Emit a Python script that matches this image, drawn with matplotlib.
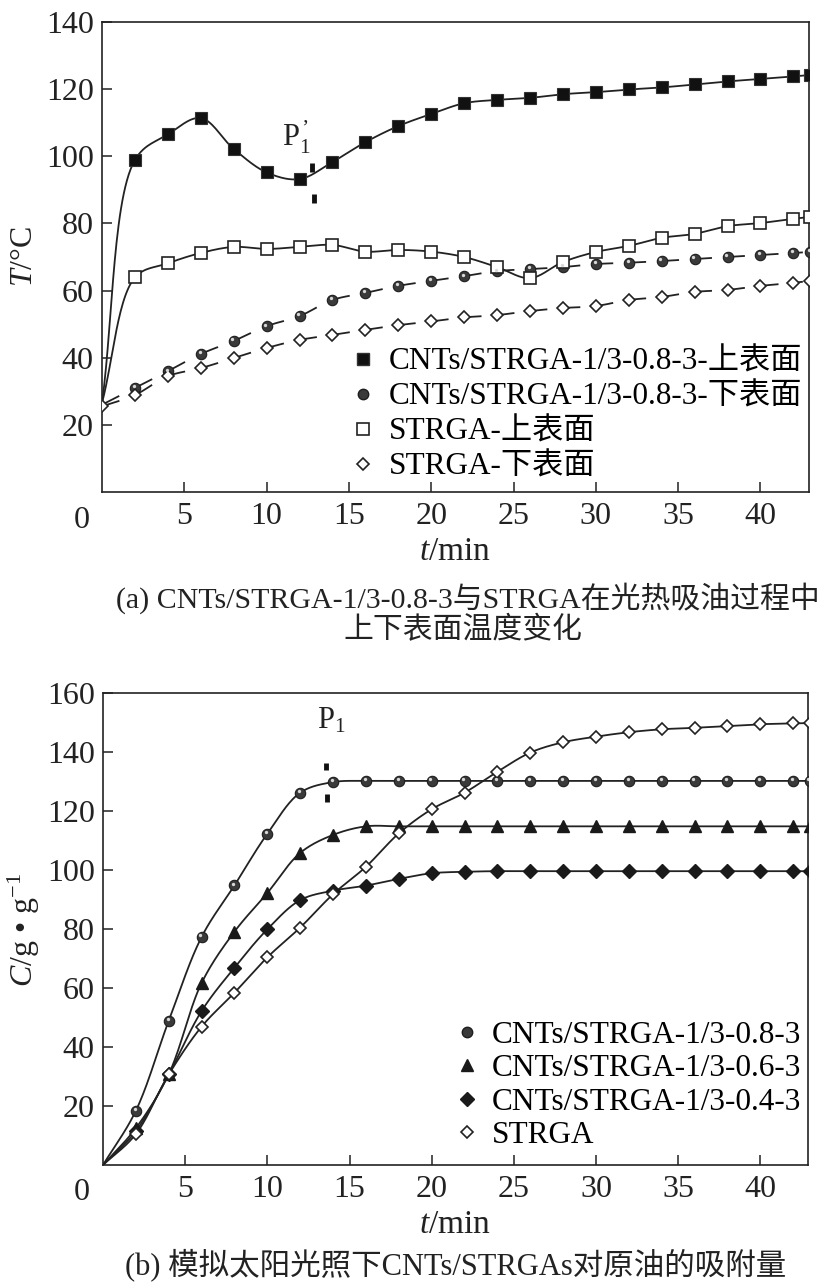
import numpy as np
import matplotlib
matplotlib.use('Agg')
import matplotlib.pyplot as plt
from matplotlib.lines import Line2D
from matplotlib.transforms import offset_copy

plt.rcParams['font.family'] = ['Liberation Serif', 'Noto Sans CJK SC']
plt.rcParams['mathtext.fontset'] = 'custom'
plt.rcParams['mathtext.rm'] = 'Liberation Serif'
plt.rcParams['mathtext.it'] = 'Liberation Serif:italic'

INK = '#222222'

# ---- data (a): surface temperature ----
t_top = [2, 4, 6, 8, 10, 12, 14, 16, 18, 20, 22, 24, 26, 28, 30, 32, 34, 36, 38, 40, 42, 43]
T_cnt_up = [98.9, 106.5, 111.4, 102.2, 95.2, 93.2, 98.3, 104.2, 109.0, 112.6, 115.8,
            116.8, 117.4, 118.5, 119.1, 119.9, 120.5, 121.4, 122.3, 123.0, 123.8, 124.2]
T_cnt_down = [31.0, 36.0, 41.1, 45.0, 49.4, 52.4, 57.2, 59.3, 61.4, 62.9, 64.3,
              65.8, 66.4, 67.0, 67.9, 68.3, 68.8, 69.4, 70.0, 70.6, 71.2, 71.5]
T_str_up = [63.9, 68.1, 71.2, 73.0, 72.4, 73.0, 73.6, 71.6, 72.1, 71.6, 70.0,
            67.0, 63.7, 68.5, 71.5, 73.3, 75.7, 76.9, 79.2, 80.1, 81.4, 81.9]
T_str_down = [28.9, 34.5, 36.9, 39.9, 42.9, 45.3, 46.8, 48.3, 49.7, 50.8, 52.0,
              52.7, 53.9, 54.8, 55.4, 57.2, 58.1, 59.6, 60.2, 61.4, 62.3, 62.9]
T_start = [26.5, 26.0, 26.5, 25.5]   # value at t = 0 for the four series
labels_top = ['CNTs/STRGA-1/3-0.8-3-上表面', 'CNTs/STRGA-1/3-0.8-3-下表面',
              'STRGA-上表面', 'STRGA-下表面']

# ---- data (b): oil adsorption capacity ----
t_bot = [2, 4, 6, 8, 10, 12, 14, 16, 18, 20, 22, 24, 26, 28, 30, 32, 34, 36, 38, 40, 42, 43]
C_08 = [18.4, 48.9, 77.3, 94.8, 112.3, 126.2, 129.8, 130.2, 130.2, 130.2, 130.2,
        130.2, 130.2, 130.2, 130.2, 130.2, 130.2, 130.2, 130.2, 130.2, 130.2, 130.2]
C_06 = [12.5, 30.8, 61.7, 79.1, 92.2, 105.8, 111.9, 114.8, 114.8, 114.8, 114.8,
        114.8, 114.8, 114.8, 114.8, 114.8, 114.8, 114.8, 114.8, 114.8, 114.8, 114.8]
C_04 = [11.5, 30.7, 52.2, 66.9, 79.9, 89.8, 93.0, 94.7, 97.0, 98.9, 99.4,
        99.6, 99.6, 99.6, 99.6, 99.6, 99.6, 99.6, 99.6, 99.6, 99.6, 99.6]
C_str = [10.5, 30.7, 46.9, 58.4, 70.4, 80.5, 91.8, 101.1, 112.4, 120.6, 126.2,
         133.3, 139.8, 143.3, 145.2, 146.7, 147.7, 148.2, 148.8, 149.4, 149.7, 149.8]
labels_bot = ['CNTs/STRGA-1/3-0.8-3', 'CNTs/STRGA-1/3-0.6-3',
              'CNTs/STRGA-1/3-0.4-3', 'STRGA']


def catmull(x, y, sx, sy, alpha=0.5):
    """centripetal Catmull-Rom through the points, worked out in screen units"""
    P = np.c_[np.asarray(x, float) * sx, np.asarray(y, float) * sy]
    P = np.vstack([2 * P[0] - P[1], P, 2 * P[-1] - P[-2]])

    def seg(i, u0=0.0, u1=1.0, k=30):
        p0, p1, p2, p3 = P[i], P[i + 1], P[i + 2], P[i + 3]
        t0 = 0.0
        t1 = t0 + np.linalg.norm(p1 - p0) ** alpha
        t2 = t1 + np.linalg.norm(p2 - p1) ** alpha
        t3 = t2 + np.linalg.norm(p3 - p2) ** alpha
        t = (t1 + np.linspace(u0, u1, k) * (t2 - t1))[:, None]
        a1 = (t1 - t) / (t1 - t0) * p0 + (t - t0) / (t1 - t0) * p1
        a2 = (t2 - t) / (t2 - t1) * p1 + (t - t1) / (t2 - t1) * p2
        a3 = (t3 - t) / (t3 - t2) * p2 + (t - t2) / (t3 - t2) * p3
        b1 = (t2 - t) / (t2 - t0) * a1 + (t - t0) / (t2 - t0) * a2
        b2 = (t3 - t) / (t3 - t1) * a2 + (t - t1) / (t3 - t1) * a3
        c = (t2 - t) / (t2 - t1) * b1 + (t - t1) / (t2 - t1) * b2
        return c[:, 0] / sx, c[:, 1] / sy

    return seg, len(x) - 1


def smooth_line(ax, x, y, sx, sy, dashed=False, **kw):
    seg, m = catmull(x, y, sx, sy)
    xs, ys = [], []
    for i in range(m):
        if dashed:
            a, b = seg(i, 0.0, 0.5)
            xs += list(a) + [np.nan]
            ys += list(b) + [np.nan]
        else:
            a, b = seg(i)
            xs += list(a)
            ys += list(b)
    ax.plot(xs, ys, color=INK, lw=1.3, zorder=2, **kw)


def style_axis(ax, xlim, ylim, yticks):
    ax.set_xlim(*xlim)
    ax.set_ylim(*ylim)
    ax.set_xticks([5, 10, 15, 20, 25, 30, 35, 40])
    ax.set_yticks(yticks)
    ax.tick_params(direction='in', length=7, width=1.1, labelsize=23, color=INK,
                   labelcolor=INK, right=False, top=False)
    ax.tick_params(axis='x', pad=7)
    ax.tick_params(axis='y', pad=6)
    for sp in ax.spines.values():
        sp.set_linewidth(1.2)
        sp.set_color(INK)


def sphere(ax, x, y, ms, **kw):
    ax.plot(x, y, 'o', ms=ms, mfc='#3a3a3a', mec='#1e1e1e', mew=0.8, zorder=3, **kw)
    hl = offset_copy(ax.transData, fig=ax.figure, x=-1.2, y=1.6, units='dots')
    ax.plot(x, y, 'o', ms=ms * 0.32, mfc='#d8d8d8', mec='none', transform=hl, zorder=4)


W, H = 833, 1288
fig = plt.figure(figsize=(W / 100, H / 100), dpi=100)

# ================= (a) =================
ax1 = fig.add_axes([102 / W, 1 - 492 / H, (809 - 102) / W, (492 - 22) / H])
sx1, sy1 = 16.46, 3.357
series_top = [T_cnt_up, T_cnt_down, T_str_up, T_str_down]
for k, ser in enumerate(series_top):
    smooth_line(ax1, [0] + t_top, [T_start[k]] + ser, sx1, sy1, dashed=k in (1, 3))

ax1.plot(t_top, T_cnt_up, 's', ms=8.5, mfc='#111111', mec='#333333', mew=0.8, zorder=3)
sphere(ax1, t_top, T_cnt_down, 7.5)
ax1.plot(t_top, T_str_up, 's', ms=8.0, mfc='white', mec=INK, mew=1.2, zorder=3)
ax1.plot([0] + t_top, [T_start[3]] + T_str_down, 'D', ms=6.5, mfc='white', mec=INK,
         mew=1.2, zorder=3)
style_axis(ax1, (0, 42.95), (0, 140), [20, 40, 60, 80, 100, 120, 140])

# P1' mark
ax1.text(11.8, 105.5, r'P$_{1}^{\,’}$', fontsize=22, color=INK, ha='center', va='center')
ax1.plot([12.75, 12.75], [95.3, 98.0], color='#111111', lw=3.5, solid_capstyle='butt')
ax1.plot([12.9, 12.9], [86.2, 88.8], color='#111111', lw=3.5, solid_capstyle='butt')

h_top = [
    Line2D([], [], ls='none', marker='s', ms=8.5, mfc='#111111', mec='#333333'),
    Line2D([], [], ls='none', marker='o', ms=7.5, mfc='#3a3a3a', mec='#1e1e1e'),
    Line2D([], [], ls='none', marker='s', ms=8.0, mfc='white', mec=INK, mew=1.2),
    Line2D([], [], ls='none', marker='D', ms=6.5, mfc='white', mec=INK, mew=1.2),
]
ax1.legend(h_top, labels_top, loc='lower right', bbox_to_anchor=(0.99, 0.022),
           frameon=False, fontsize=22.5, handlelength=0.8, handletextpad=0.4,
           labelspacing=0.19, borderaxespad=0.0, borderpad=0.0)

fig.text(82 / W, 1 - 520 / H, '0', fontsize=23, color=INK, ha='center', va='center')
fig.text(455 / W, 1 - 552 / H, r'$t$/min', fontsize=24, color=INK, ha='center', va='center')
fig.text(24 / W, 1 - 257 / H, r'$T$/°C', fontsize=23, color=INK, ha='center', va='center',
         rotation=90)
fig.text(468 / W, 1 - 598 / H, '(a) CNTs/STRGA-1/3-0.8-3与STRGA在光热吸油过程中',
         fontsize=21.5, color=INK, ha='center', va='center')
fig.text(463 / W, 1 - 630 / H, '上下表面温度变化', fontsize=21.5, color=INK,
         ha='center', va='center')

# ================= (b) =================
ax2 = fig.add_axes([103 / W, 1 - 1165 / H, (808 - 103) / W, (1165 - 693) / H])
sx2, sy2 = 16.43, 2.95
series_bot = [C_08, C_06, C_04, C_str]
for ser in series_bot:
    smooth_line(ax2, [0] + t_bot, [0.0] + ser, sx2, sy2)

sphere(ax2, t_bot, C_08, 7.5)
ax2.plot(t_bot, C_06, '^', ms=8.5, mfc='#1a1a1a', mec='#1a1a1a', zorder=3)
ax2.plot(t_bot, C_04, 'D', ms=7.0, mfc='#1a1a1a', mec='#1a1a1a', zorder=3)
ax2.plot(t_bot, C_str, 'D', ms=6.5, mfc='white', mec=INK, mew=1.2, zorder=3)
style_axis(ax2, (0, 42.9), (0, 160), [20, 40, 60, 80, 100, 120, 140, 160])

ax2.text(13.9, 150.5, r'P$_{1}$', fontsize=22, color=INK, ha='center', va='center')
ax2.plot([13.6, 13.6], [133.8, 136.4], color='#111111', lw=3.5, solid_capstyle='butt')
ax2.plot([13.65, 13.65], [123.2, 125.8], color='#111111', lw=3.5, solid_capstyle='butt')

h_bot = [
    Line2D([], [], ls='none', marker='o', ms=7.5, mfc='#3a3a3a', mec='#1e1e1e'),
    Line2D([], [], ls='none', marker='^', ms=8.5, mfc='#1a1a1a', mec='#1a1a1a'),
    Line2D([], [], ls='none', marker='D', ms=7.0, mfc='#1a1a1a', mec='#1a1a1a'),
    Line2D([], [], ls='none', marker='D', ms=6.5, mfc='white', mec=INK, mew=1.2),
]
ax2.legend(h_bot, labels_bot, loc='lower right', bbox_to_anchor=(0.99, 0.032),
           frameon=False, fontsize=22.5, handlelength=0.8, handletextpad=0.4,
           labelspacing=0.14, borderaxespad=0.0, borderpad=0.0)

fig.text(82 / W, 1 - 1193 / H, '0', fontsize=23, color=INK, ha='center', va='center')
fig.text(455 / W, 1 - 1225 / H, r'$t$/min', fontsize=24, color=INK, ha='center', va='center')
fig.text(24 / W, 1 - 930 / H, r'$C$/g • g$^{-1}$', fontsize=23, color=INK, ha='center',
         va='center', rotation=90)
fig.text(456 / W, 1 - 1265 / H, '(b) 模拟太阳光照下CNTs/STRGAs对原油的吸附量',
         fontsize=22, color=INK, ha='center', va='center')

fig.savefig('out.png', dpi=100)
